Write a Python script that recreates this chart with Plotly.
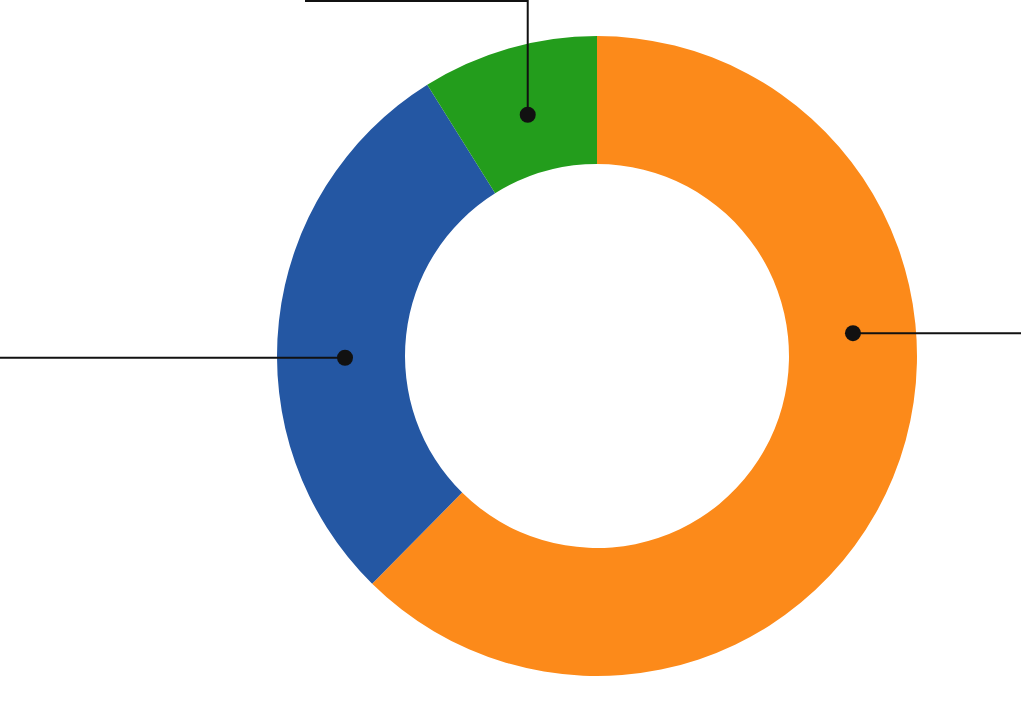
import math
import plotly.graph_objects as go

# Data
categories = ["A", "B", "C"]
values = [62.4, 28.7, 8.9]
colors = ["#FC8A1A", "#2457A3", "#239D1C"]

# Leader-line anchors (angle clockwise from 12 o'clock, degrees; None -> slice midpoint) and radius
anchor_angles = [84.9, 269.6, None]
anchor_radii = [257, 252, 251]
W, H = 1021, 702
cx, cy, R = 597, 356, 320

fig = go.Figure()
fig.add_trace(go.Pie(
    labels=categories, values=values, hole=0.6, sort=False,
    direction="clockwise", rotation=0,
    marker=dict(colors=colors, line=dict(width=0)),
    textinfo="none", hoverinfo="label+value+percent",
    domain=dict(x=[(cx - R) / W, (cx + R) / W], y=[(H - cy - R) / H, (H - cy + R) / H]),
    showlegend=False,
))

total = sum(values)
start = 0.0
mids = []
for v in values:
    ang = v / total * 360
    mids.append(start + ang / 2)
    start += ang

pts = []
for a, m, rr in zip(anchor_angles, mids, anchor_radii):
    ang = a if a is not None else m
    t = math.radians(ang)
    pts.append((cx + rr * math.sin(t), cy - rr * math.cos(t)))

(ox, oy), (bx, by), (gx, gy) = pts
line_paths = [
    [(ox, oy), (W, oy)],
    [(bx, by), (0, by)],
    [(gx, gy), (gx, 1), (305, 1)],
]
shapes = []
for path in line_paths:
    d = "M " + " L ".join(f"{x},{y}" for x, y in path)
    shapes.append(dict(type="path", path=d, xref="x", yref="y", layer="above",
                       line=dict(color="#111111", width=2)))
for x, y in pts:
    shapes.append(dict(type="circle", xref="x", yref="y", xsizemode="pixel", ysizemode="pixel",
                       xanchor=x, yanchor=y, x0=-8, x1=8, y0=-8, y1=8,
                       fillcolor="#111111", line=dict(width=0), layer="above"))

fig.update_layout(
    width=W, height=H, margin=dict(l=0, r=0, t=0, b=0),
    paper_bgcolor="white", plot_bgcolor="rgba(0,0,0,0)",
    xaxis=dict(range=[0, W], visible=False, fixedrange=True),
    yaxis=dict(range=[H, 0], visible=False, fixedrange=True),
    shapes=shapes,
)
fig.write_html("out.html", config={"displayModeBar": False},
               post_script="document.body.style.margin='0';")
